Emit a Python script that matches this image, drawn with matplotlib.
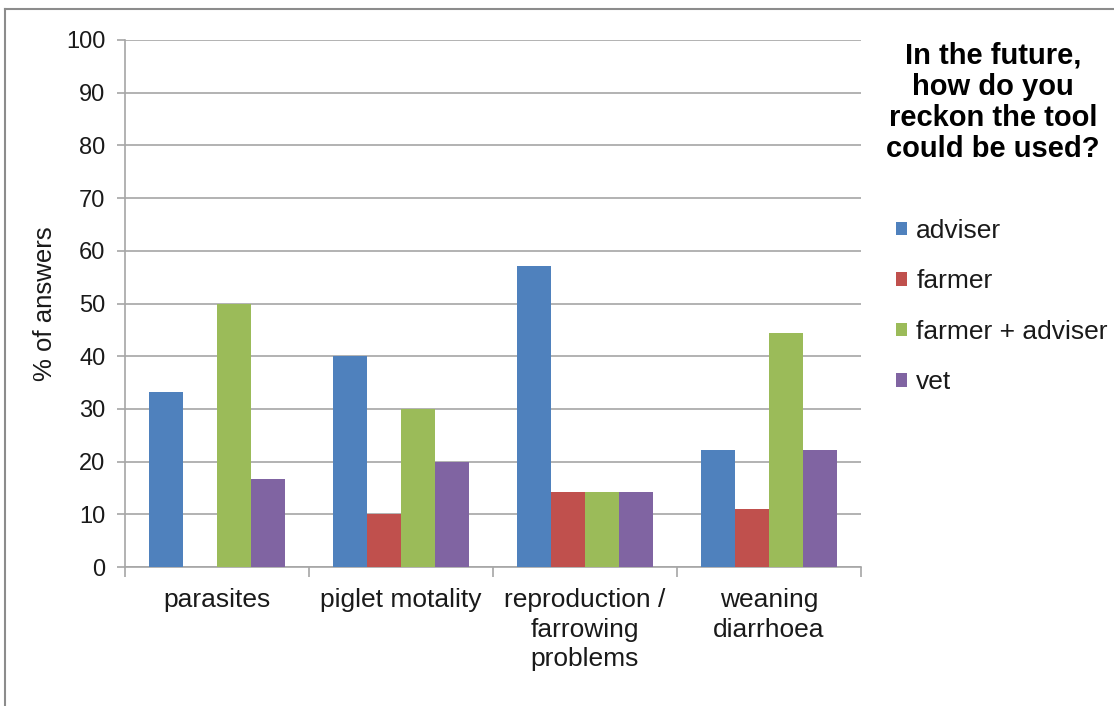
import matplotlib
matplotlib.use("Agg")
import matplotlib.pyplot as plt
from matplotlib.lines import Line2D
import numpy as np

plt.rcParams['font.family'] = ['Liberation Sans', 'DejaVu Sans']

categories = ["parasites", "piglet motality", "reproduction /\nfarrowing\nproblems", "weaning\ndiarrhoea"]
series_names = ["adviser", "farmer", "farmer + adviser", "vet"]
adviser = [33.3, 40.0, 57.1, 22.2]
farmer = [0.0, 10.0, 14.3, 11.1]
farmer_adviser = [50.0, 30.0, 14.3, 44.4]
vet = [16.7, 20.0, 14.3, 22.2]
yticks = [0, 10, 20, 30, 40, 50, 60, 70, 80, 90, 100]
colors = ["#4F81BD", "#C0504D", "#9BBB59", "#8064A2"]

W, H = 1114, 706
fig = plt.figure(figsize=(W / 100, H / 100), dpi=100)
ax = fig.add_axes([125 / W, 1 - 567 / H, (861 - 125) / W, (567 - 40) / H])

x = np.arange(len(categories))
w = 0.185
data = [adviser, farmer, farmer_adviser, vet]
handles = []
for i, (vals, c, name) in enumerate(zip(data, colors, series_names)):
    b = ax.bar(x + (i - 1.5) * w, vals, width=w, color=c, label=name, zorder=3)
    handles.append(b)

grid_c = "#A6A6A6"
txt_c = "#1a1a1a"
ax.set_xlim(-0.5, len(categories) - 0.5)
ax.set_ylim(0, 100)
ax.set_yticks(yticks)
ax.set_yticklabels([str(v) for v in yticks])
ax.yaxis.grid(True, color=grid_c, linewidth=1.2, zorder=0)
ax.set_axisbelow(True)
for s in ["top", "right"]:
    ax.spines[s].set_visible(False)
for s in ["left", "bottom"]:
    ax.spines[s].set_color(grid_c)
    ax.spines[s].set_linewidth(1.2)

ax.set_xticks(x)
ax.set_xticklabels(categories, fontsize=19, linespacing=1.3, color=txt_c)
ax.tick_params(axis='x', which='major', length=0, pad=15)
ax.set_xticks(np.arange(-0.5, len(categories), 1.0), minor=True)
ax.tick_params(axis='x', which='minor', length=7, color=grid_c, width=1.2, direction='out')
ax.tick_params(axis='y', length=6, color=grid_c, width=1.2, labelsize=17, pad=8, labelcolor=txt_c)

ax.set_ylabel("% of answers", fontsize=18.5, color=txt_c, labelpad=6.5)

fig.text(993 / W, 1 - 102.5 / H, "In the future,\nhow do you\nreckon the tool\ncould be used?",
         ha="center", va="center", fontsize=21, fontweight="bold", linespacing=1.15,
         color="black")

leg = fig.legend(handles=handles, labels=series_names, loc="upper left",
                 bbox_to_anchor=(896 / W, 1 - 219 / H), frameon=False, fontsize=19,
                 handlelength=0.42, handleheight=0.42, handletextpad=0.35,
                 labelspacing=1.0, borderaxespad=0, borderpad=0)
for t in leg.get_texts():
    t.set_color(txt_c)

# outer frame (left and top only)
fig.add_artist(Line2D([5 / W, 5 / W], [0, 1 - 9 / H], transform=fig.transFigure,
                      color="#8C8C8C", linewidth=1.5))
fig.add_artist(Line2D([5 / W, 1], [1 - 9 / H, 1 - 9 / H], transform=fig.transFigure,
                      color="#8C8C8C", linewidth=1.5))

fig.savefig("out.png", dpi=100, facecolor="white")
